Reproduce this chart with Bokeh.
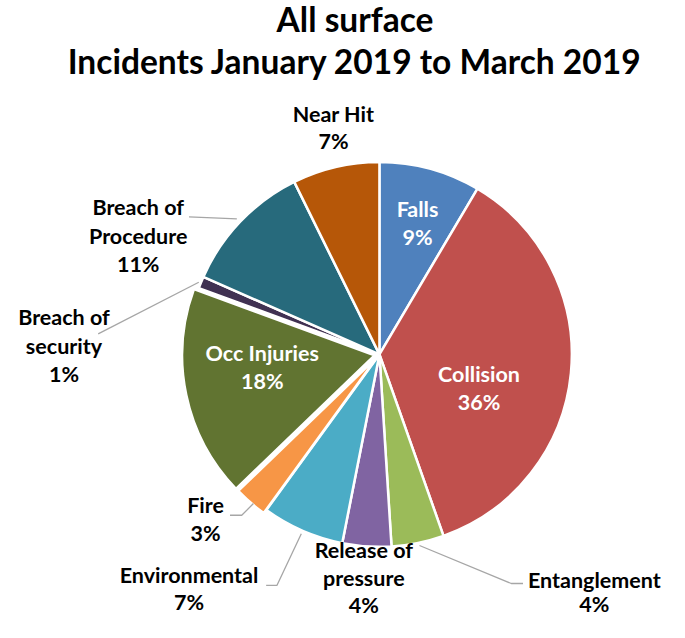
import math
from bokeh.plotting import figure
from bokeh.models import Range1d
from bokeh.core.properties import value
from bokeh.embed import file_html
from bokeh.resources import INLINE

# ---------------- data ----------------
categories = ["Falls", "Collision", "Entanglement", "Release of pressure", "Environmental",
              "Fire", "Occ Injuries", "Breach of security", "Breach of Procedure", "Near Hit"]
shares = [8.5, 36.1, 4.4, 4.1, 6.9, 2.8, 17.8, 1.0, 11.1, 7.3]
title_lines = ["All surface", "Incidents January 2019 to March 2019"]

# ---------------- style ----------------
colors = ["#4F81BD", "#C0504D", "#9BBB59", "#8064A2", "#4BACC6",
          "#F79646", "#617431", "#403152", "#276A7C", "#B65708"]
explode = {"Occ Injuries": 5, "Fire": 4}
FONT = "Lato"
W, H = 669, 622
SX, SY = W / 685.0, H / 638.0
BASE_FIX = 0.45  # baseline correction (fraction of font size)

def X(rx):
    return rx * SX

def Y(ry):
    return H - ry * SY

p = figure(width=W, height=H, output_backend="svg", toolbar_location=None,
           x_range=Range1d(0, W), y_range=Range1d(0, H),
           x_axis_type=None, y_axis_type=None, min_border=0)
p.outline_line_color = None
p.grid.visible = False
p.background_fill_color = "white"
p.border_fill_color = "white"

cx, cy, R = X(388), Y(363), 197 * SX

total = sum(shares)
cum = 0.0
for cat, v, col in zip(categories, shares, colors):
    f0 = cum / total
    f1 = (cum + v) / total
    cum += v
    a_start = math.pi / 2 - 2 * math.pi * f1
    a_end = math.pi / 2 - 2 * math.pi * f0
    mid = (a_start + a_end) / 2
    off = explode.get(cat, 0)
    x0 = cx + off * math.cos(mid)
    y0 = cy + off * math.sin(mid)
    p.wedge(x=[x0], y=[y0], radius=R, start_angle=[a_start], end_angle=[a_end],
            fill_color=col, line_color="white", line_width=2.5)

def pct(v):
    return f"{int(v / total * 100 + 0.5)}%"

idx = {c: i for i, c in enumerate(categories)}

# label layout: (category, name lines, center x, first baseline y, line spacing, color)
label_layout = [
    ("Near Hit", ["Near Hit"], 341, 126, 28, "black"),
    ("Falls", ["Falls"], 427, 224, 29, "white"),
    ("Collision", ["Collision"], 490, 393, 29, "white"),
    ("Occ Injuries", ["Occ Injuries"], 268, 371, 29, "white"),
    ("Breach of Procedure", ["Breach of", "Procedure"], 141, 222, 29, "black"),
    ("Breach of security", ["Breach of", "security"], 65, 335, 29, "black"),
    ("Fire", ["Fire"], 210, 527, 29, "black"),
    ("Environmental", ["Environmental"], 193, 599, 28, "black"),
    ("Release of pressure", ["Release of", "pressure"], 372, 574, 28, "black"),
    ("Entanglement", ["Entanglement"], 608, 604, 25, "black"),
]
LFS = 21.5
for cat, lines, lx, ly, ls, col in label_layout:
    all_lines = lines + [pct(shares[idx[cat]])]
    xs = [X(lx)] * len(all_lines)
    ys = [Y(ly + i * ls) + BASE_FIX * LFS for i in range(len(all_lines))]
    p.text(x=xs, y=ys, text=all_lines, text_font=value(FONT), text_font_style="bold",
           text_font_size=f"{LFS}px", text_color=col, text_align="center",
           text_baseline="alphabetic")

# leader lines
leaders = [
    [(193, 222), (242, 224)],
    [(100, 342), (203, 289)],
    [(235, 528), (247, 528), (259, 516)],
    [(272, 600), (283, 600), (308, 547)],
    [(429, 559), (523, 598), (535, 598)],
]
for pts in leaders:
    p.line(x=[X(a) for a, b in pts], y=[Y(b) for a, b in pts], line_color="#A6A6A6", line_width=1.3)

# title
TFS = 33.5
p.text(x=[X(363), X(363)], y=[Y(34) + BASE_FIX * TFS, Y(78) + BASE_FIX * TFS], text=title_lines,
       text_font=value(FONT), text_font_style="bold", text_font_size=f"{TFS}px",
       text_color="black", text_align="center", text_baseline="alphabetic")

open("out.html", "w").write(file_html(p, INLINE))
